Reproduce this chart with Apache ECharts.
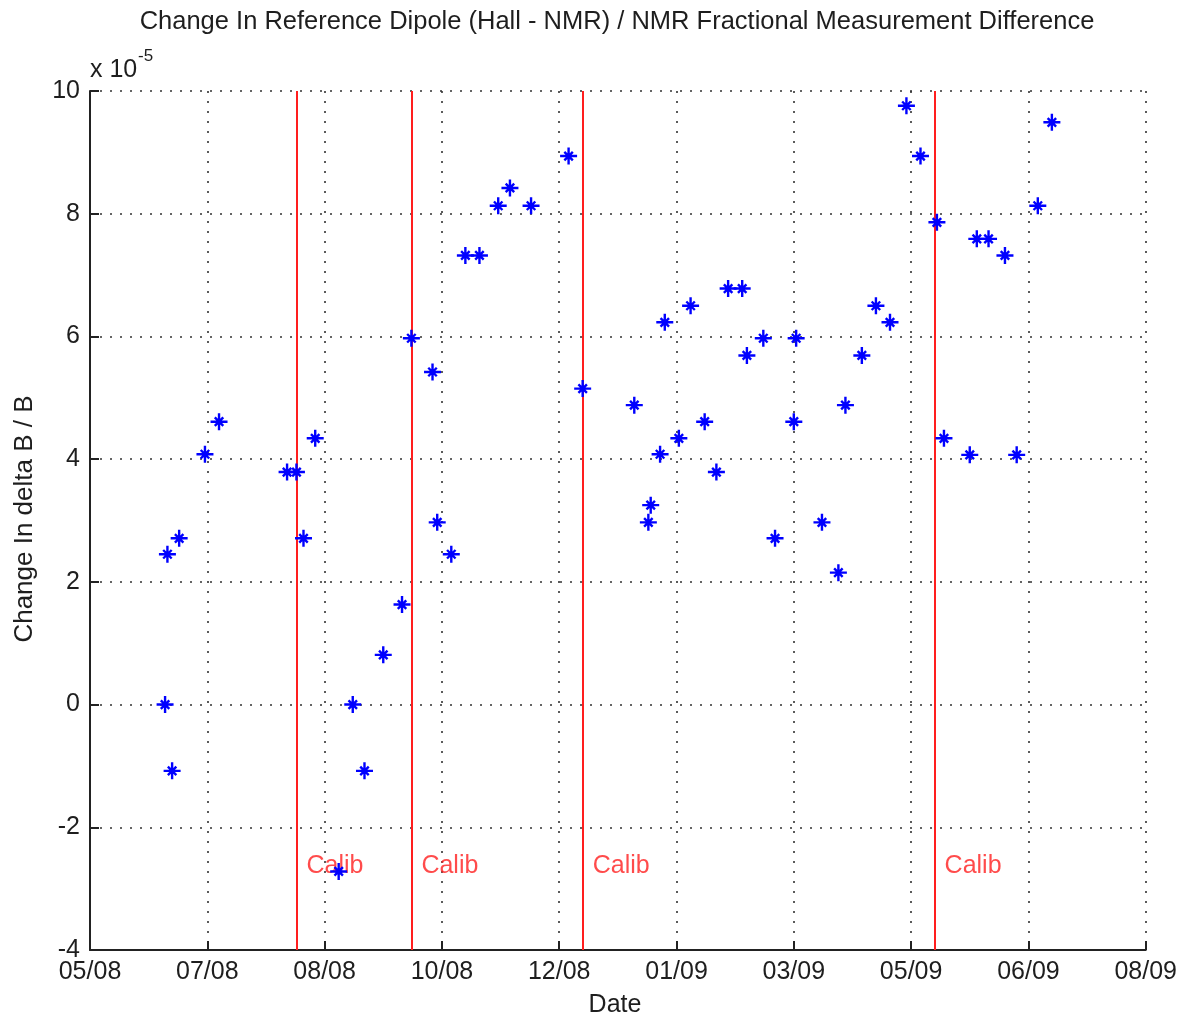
<!DOCTYPE html>
<html>
<head>
<meta charset="utf-8">
<script src="https://cdn.jsdelivr.net/npm/echarts@6/dist/echarts.min.js"></script>
<style>
  html, body { margin: 0; padding: 0; background: #ffffff; }
  #chart { width: 1180px; height: 1018px; }
</style>
</head>
<body>
<div id="chart"></div>
<script>
// Date tick labels (mm/yy), one every 50 days from the start of the axis
const dateTickLabels = ['05/08', '07/08', '08/08', '10/08', '12/08', '01/09', '03/09', '05/09', '06/09', '08/09'];
const tickStepDays = 50;

// Measurement dates, in days from the first tick
const measDays = [32, 33, 35, 38, 49, 55, 84, 88, 91, 96,
                  106, 112, 117, 125, 133, 137, 146, 148, 154, 160,
                  166, 174, 179, 188, 204, 210, 232, 238, 239, 243,
                  245, 251, 256, 262, 267, 272, 278, 280, 287, 292,
                  300, 301, 312, 319, 322, 329, 335, 341, 348, 354,
                  361, 364, 375, 378, 383, 390, 395, 404, 410];

// Change in delta B / B, in units of 1e-5
const deltaBoverB = [0, 2.45, -1.08, 2.71, 4.08, 4.61, 3.79, 3.79, 2.71, 4.34,
                     -2.72, 0, -1.08, 0.81, 1.63, 5.97, 5.42, 2.97, 2.45, 7.32,
                     7.32, 8.13, 8.42, 8.13, 8.94, 5.15, 4.88, 2.97, 3.25, 4.08,
                     6.23, 4.34, 6.50, 4.61, 3.79, 6.78, 6.78, 5.69, 5.97, 2.71,
                     4.61, 5.97, 2.97, 2.15, 4.88, 5.69, 6.50, 6.23, 9.76, 8.94,
                     7.86, 4.34, 4.07, 7.59, 7.59, 7.32, 4.07, 8.13, 9.49];

// Calibration dates, in days from the first tick
const calibDays = [88, 137, 210, 360];
const calibLabel = 'Calib';
const calibLabelLevel = -2.63;

const FONT = '"Liberation Sans", Arial, Helvetica, sans-serif';
const TEXT = '#1e1e1e';
const points = measDays.map((d, i) => [d, deltaBoverB[i]]);

// Asterisk marker: plus with short diagonals
const asterisk = 'path://M8,0L8,16M0,8L16,8M4,4L12,12M4,12L12,4';

const chart = echarts.init(document.getElementById('chart'), null, { renderer: 'canvas' });

const gridLine = { show: true, lineStyle: { color: '#333', width: 1.6, type: [2, 8] } };

chart.setOption({
  backgroundColor: '#ffffff',
  animation: false,
  grid: { left: 90, right: 31, top: 91, bottom: 68, containLabel: false },
  xAxis: {
    type: 'value',
    min: 0,
    max: tickStepDays * (dateTickLabels.length - 1),
    interval: tickStepDays,
    axisLine: { show: true, onZero: false, lineStyle: { color: '#222', width: 2 } },
    axisTick: { show: true, inside: true, length: 9, lineStyle: { color: '#222', width: 2 } },
    axisLabel: {
      margin: 10, fontSize: 25, fontFamily: FONT, color: TEXT,
      formatter: v => dateTickLabels[Math.round(v / tickStepDays)]
    },
    splitLine: gridLine
  },
  yAxis: {
    type: 'value',
    min: -4,
    max: 10,
    interval: 2,
    axisLine: { show: true, onZero: false, lineStyle: { color: '#222', width: 2 } },
    axisTick: { show: true, inside: true, length: 9, lineStyle: { color: '#222', width: 2 } },
    axisLabel: { margin: 10, fontSize: 25, fontFamily: FONT, color: TEXT },
    splitLine: gridLine
  },
  series: [
    {
      // calibration markers: vertical lines with labels beside them
      type: 'scatter',
      data: calibDays.map(d => [d, calibLabelLevel]),
      symbolSize: 0,
      silent: true,
      label: {
        show: true,
        position: 'right',
        distance: 10,
        formatter: calibLabel,
        color: '#ff1e1e',
        fontSize: 25,
        fontFamily: FONT
      },
      markLine: {
        silent: true,
        symbol: ['none', 'none'],
        label: { show: false },
        lineStyle: { color: '#ff1e1e', width: 2, type: 'solid', opacity: 1 },
        data: calibDays.map(d => ({ xAxis: d }))
      },
      z: 2
    },
    {
      type: 'scatter',
      data: points,
      symbol: asterisk,
      symbolSize: 17,
      itemStyle: { color: '#0000ff', borderColor: '#0000ff', borderWidth: 2.4, opacity: 1 },
      z: 5
    }
  ],
  graphic: [
    {
      type: 'text',
      x: 617, y: 22,
      style: {
        text: 'Change In Reference Dipole (Hall - NMR) / NMR Fractional Measurement Difference',
        font: '25.5px ' + FONT, fill: TEXT, textAlign: 'center', textVerticalAlign: 'middle'
      }
    },
    {
      type: 'text',
      x: 90, y: 70,
      style: {
        text: 'x 10', font: '25px ' + FONT, fill: TEXT, textAlign: 'left', textVerticalAlign: 'middle'
      }
    },
    {
      type: 'text',
      x: 138, y: 56,
      style: {
        text: '-5', font: '17px ' + FONT, fill: TEXT, textAlign: 'left', textVerticalAlign: 'middle'
      }
    },
    {
      type: 'text',
      x: 25, y: 519,
      rotation: Math.PI / 2,
      style: {
        text: 'Change In delta B / B', font: '26px ' + FONT, fill: TEXT,
        textAlign: 'center', textVerticalAlign: 'middle'
      }
    },
    {
      type: 'text',
      x: 615, y: 1005,
      style: {
        text: 'Date', font: '25px ' + FONT, fill: TEXT, textAlign: 'center', textVerticalAlign: 'middle'
      }
    }
  ]
});
</script>
</body>
</html>
